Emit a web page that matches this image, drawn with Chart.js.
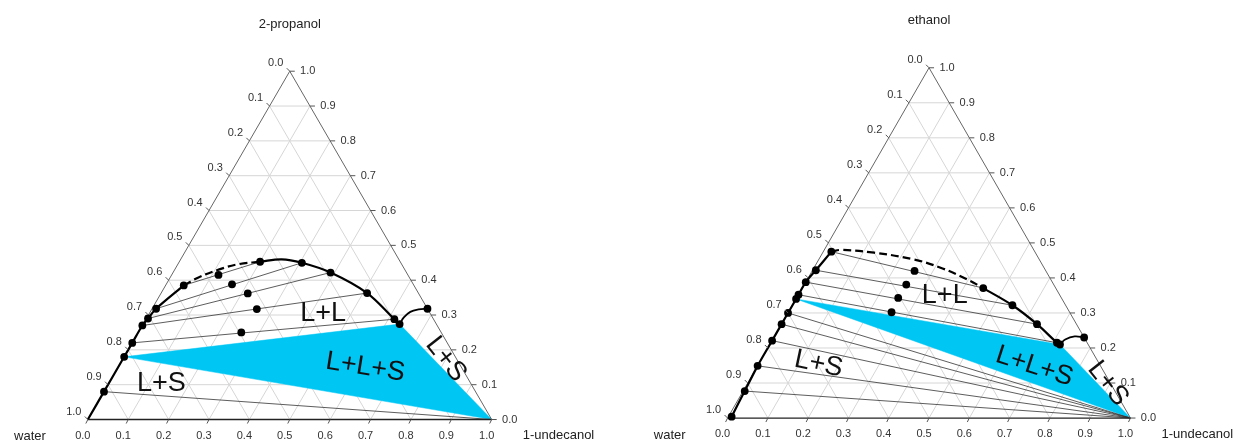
<!DOCTYPE html>
<html>
<head>
<meta charset="utf-8">
<script src="https://cdn.jsdelivr.net/npm/chart.js@4.4.1/dist/chart.umd.min.js"></script>
<style>
  body { margin: 0; background: #fff; }
  #wrap { display: flex; width: 1242px; height: 447px; }
  canvas { display: block; }
</style>
</head>
<body>
<div id="wrap">
  <canvas id="propanol" width="621" height="447"></canvas>
  <canvas id="ethanol" width="621" height="447"></canvas>
</div>
<script>
// every point is [1-undecanol, alcohol] mass fraction, water is the rest
const tickValues = [0, 0.1, 0.2, 0.3, 0.4, 0.5, 0.6, 0.7, 0.8, 0.9, 1.0];
const gridSteps = [0.1, 0.2, 0.3, 0.4, 0.5, 0.6, 0.7, 0.8, 0.9];

// 2-propanol + water + 1-undecanol
const propWaterPhase = [[0, 0.08], [0, 0.18], [0, 0.22], [0, 0.27], [0.004, 0.29], [0.01, 0.318], [0.045, 0.385]];
const propDashed = [[0.045, 0.385], [0.07, 0.408], [0.11, 0.431], [0.15, 0.446], [0.2, 0.453]];
const propOilPhase = [[0.2, 0.453], [0.305, 0.45], [0.39, 0.422], [0.51, 0.363], [0.615, 0.288], [0.635, 0.274]];
const propOilCurve = [[0.2, 0.453], [0.25, 0.46], [0.305, 0.45], [0.39, 0.422], [0.51, 0.363], [0.615, 0.288], [0.635, 0.274]];
const propSolubility = [[0.635, 0.274], [0.636, 0.293], [0.644, 0.309], [0.661, 0.316], [0.682, 0.318]];
const propFeeds = [[0.255, 0.25], [0.26, 0.317], [0.215, 0.362], [0.163, 0.388], [0.116, 0.415]];
const propTieWater = [[0, 0.22], [0, 0.27], [0.004, 0.29], [0.01, 0.318], [0.045, 0.385]];
const propTieOil = [[0.615, 0.288], [0.51, 0.363], [0.39, 0.422], [0.305, 0.45], [0.2, 0.453]];
const propLS = [[0, 0.08]];
const propThreePhase = [[0, 0.18], [0.635, 0.274], [1, 0]];

// ethanol + water + 1-undecanol
const ethWaterPhase = [[0.008, 0.004], [0.004, 0.077], [0, 0.149], [0, 0.221], [0, 0.268], [0, 0.30], [0, 0.34], [0, 0.352], [0, 0.388], [0.008, 0.422], [0.02, 0.475]];
const ethDashed = [[0.02, 0.475], [0.042, 0.48], [0.128, 0.472], [0.235, 0.453], [0.312, 0.43], [0.394, 0.397], [0.449, 0.371]];
const ethOilPhase = [[0.449, 0.371], [0.546, 0.322], [0.634, 0.268], [0.71, 0.215], [0.72, 0.21]];
const ethSolubility = [[0.72, 0.21], [0.726, 0.224], [0.745, 0.233], [0.77, 0.23]];
const ethFeeds = [[0.254, 0.42], [0.253, 0.381], [0.252, 0.343], [0.256, 0.302]];
const ethTieWater = [[0.02, 0.475], [0.008, 0.422], [0, 0.388], [0, 0.352]];
const ethTieOil = [[0.449, 0.371], [0.546, 0.322], [0.634, 0.268], [0.71, 0.215]];
const ethLS = [[0.004, 0.077], [0, 0.149], [0, 0.221], [0, 0.268], [0, 0.30]];
const ethThreePhase = [[0, 0.34], [0.72, 0.21], [1, 0]];

const GRID = '#d6d6d6';
const EDGE = '#666';
const TIE = '#333';
const BLUE = '#00c6f4';

function toXY(pts) {
    return pts.map(p => ({ x: p[0] + p[1] / 2, y: p[1] }));
}

function lineSet(pts, color, width, order, extra) {
    return Object.assign({
        data: toXY(pts),
        showLine: true,
        borderColor: color,
        borderWidth: width,
        pointRadius: 0,
        pointHoverRadius: 0,
        fill: false,
        tension: 0,
        order: order
    }, extra || {});
}

function buildDatasets(d) {
    let sets = [];
    gridSteps.forEach(v => {
        sets.push(lineSet([[0, v], [1 - v, v]], GRID, 1, 9));
        sets.push(lineSet([[v, 0], [v, 1 - v]], GRID, 1, 9));
        sets.push(lineSet([[1 - v, 0], [0, 1 - v]], GRID, 1, 9));
    });
    sets.push(lineSet(d.threePhase.concat([d.threePhase[0]]), BLUE, 0.5, 8, { fill: 'shape', backgroundColor: BLUE }));
    d.tieWater.forEach((w, i) => sets.push(lineSet([w, d.tieOil[i]], TIE, 0.8, 6)));
    d.ls.forEach(w => sets.push(lineSet([w, [1, 0]], TIE, 0.8, 6)));
    sets.push(lineSet([[1, 0], [0, 1], [0, 0]], EDGE, 1, 5));
    sets.push(lineSet([[0, 0], [1, 0]], '#222', 1.3, 5));
    sets.push(lineSet(d.waterCurve, '#000', 2.2, 2, { tension: 0.3 }));
    sets.push(lineSet(d.dashed, '#000', 2.2, 2, { tension: 0.4, borderDash: [8, 4] }));
    sets.push(lineSet(d.oilCurve, '#000', 2.2, 2, { tension: 0.35 }));
    sets.push(lineSet(d.solubility, '#000', 1.8, 2, { tension: 0.4 }));
    let markers = d.waterPhase.concat(d.oilPhase, [d.solubility[d.solubility.length - 1]], d.feeds);
    sets.push({ data: toXY(markers), pointRadius: 3.9, pointHoverRadius: 0, backgroundColor: '#000', borderWidth: 0, showLine: false, order: 0 });
    return sets;
}

const ternaryText = {
    id: 'ternaryText',
    afterDatasetsDraw(chart, args, opts) {
        const ctx = chart.ctx;
        const xs = chart.scales.x;
        const ys = chart.scales.y;
        const pix = (u, p) => [xs.getPixelForValue(u + p / 2), ys.getPixelForValue(p)];
        const seg = (x1, y1, x2, y2) => { ctx.beginPath(); ctx.moveTo(x1, y1); ctx.lineTo(x2, y2); ctx.stroke(); };
        ctx.save();
        ctx.strokeStyle = '#555';
        ctx.lineWidth = 1;
        ctx.fillStyle = '#333';
        ctx.font = '11px "Liberation Sans", Arial, sans-serif';
        ctx.textAlign = 'center';
        ctx.textBaseline = 'middle';
        tickValues.forEach(v => {
            const s = v.toFixed(1);
            let [x, y] = pix(v, 0);         // bottom axis, 1-undecanol
            seg(x, y, x - 2, y + 4);
            ctx.fillText(s, x - 5, y + 16);
            [x, y] = pix(1 - v, v);         // right axis, alcohol
            seg(x, y, x + 5, y);
            ctx.fillText(s, x + 18, y);
            [x, y] = pix(0, 1 - v);         // left axis, water
            seg(x, y, x - 3, y - 3);
            ctx.fillText(s, x - 14, y - 8);
        });
        ctx.fillStyle = '#222';
        ctx.font = '13px "Liberation Sans", Arial, sans-serif';
        let [x, y] = pix(0, 1);
        ctx.fillText(opts.top, x, y - 47);
        [x, y] = pix(0, 0);
        ctx.textAlign = 'right';
        ctx.fillText('water', x - 42, y + 17);
        [x, y] = pix(1, 0);
        ctx.textAlign = 'left';
        ctx.fillText('1-undecanol', x + 31, y + 16);
        ctx.textAlign = 'center';
        ctx.fillStyle = '#111';
        ctx.font = '27px "Liberation Sans", Arial, sans-serif';
        opts.regions.forEach(r => {
            const [rx, ry] = pix(r.at[0], r.at[1]);
            ctx.save();
            ctx.translate(rx, ry);
            ctx.rotate(r.rot * Math.PI / 180);
            ctx.fillText(r.text, 0, 0);
            ctx.restore();
        });
        ctx.restore();
    }
};

function drawDiagram(id, d, place, top, regions) {
    const W = 621, H = 447;
    const sx = place.x1 - place.x0;
    const sy = place.y0 - place.y1;
    const xMin = -place.x0 / sx;
    const yMax = 1 + place.y1 / sy;
    return new Chart(document.getElementById(id).getContext('2d'), {
        type: 'scatter',
        data: { datasets: buildDatasets(d) },
        options: {
            responsive: false,
            animation: false,
            events: [],
            layout: { padding: 0 },
            plugins: {
                legend: { display: false },
                tooltip: { enabled: false },
                ternaryText: { top: top, regions: regions }
            },
            scales: {
                x: { type: 'linear', display: false, min: xMin, max: xMin + W / sx },
                y: { type: 'linear', display: false, min: yMax - H / sy, max: yMax }
            }
        },
        plugins: [ternaryText]
    });
}

drawDiagram('propanol', {
    waterPhase: propWaterPhase,
    waterCurve: [[0, 0]].concat(propWaterPhase),
    dashed: propDashed,
    oilPhase: propOilPhase,
    oilCurve: propOilCurve,
    solubility: propSolubility,
    feeds: propFeeds,
    tieWater: propTieWater,
    tieOil: propTieOil,
    ls: propLS,
    threePhase: propThreePhase
}, { x0: 85, x1: 494, y0: 423, y1: 68.5 }, '2-propanol', [
    { text: 'L+S', at: [0.13, 0.104], rot: 0 },
    { text: 'L+L', at: [0.43, 0.305], rot: 0 },
    { text: 'L+L+S', at: [0.612, 0.15], rot: 9 },
    { text: 'L+S', at: [0.80, 0.173], rot: 52 }
]);

drawDiagram('ethanol', {
    waterPhase: ethWaterPhase,
    waterCurve: ethWaterPhase,
    dashed: ethDashed,
    oilPhase: ethOilPhase,
    oilCurve: ethOilPhase,
    solubility: ethSolubility,
    feeds: ethFeeds,
    tieWater: ethTieWater,
    tieOil: ethTieOil,
    ls: ethLS,
    threePhase: ethThreePhase
}, { x0: 104, x1: 512, y0: 421.5, y1: 65 }, 'ethanol', [
    { text: 'L+L', at: [0.364, 0.35], rot: 0 },
    { text: 'L+L+S', at: [0.688, 0.147], rot: 18 },
    { text: 'L+S', at: [0.895, 0.098], rot: 52 },
    { text: 'L+S', at: [0.149, 0.154], rot: 12 }
]);
</script>
</body>
</html>
